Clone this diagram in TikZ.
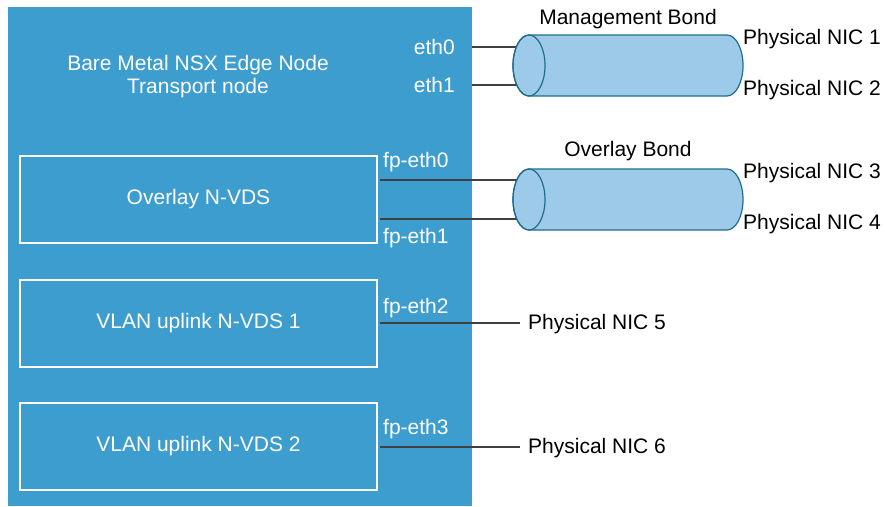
\documentclass[tikz,border=0pt]{standalone}
\usepackage{fontspec}
\setmainfont{Liberation Sans}
\definecolor{panelblue}{HTML}{3C9DCE}
\definecolor{cylfill}{HTML}{9CCAE8}
\definecolor{cyldraw}{HTML}{1F6E8C}
\definecolor{wire}{HTML}{404040}
\tikzset{
  txt/.style={font=\fontsize{21}{23}\selectfont, inner sep=0pt, yshift=-1.5pt},
  wtxt/.style={txt, text=white},
  vds/.style={draw=white, line width=2pt, minimum width=357pt, minimum height=87pt, font=\fontsize{21}{23}\selectfont, text=white, inner sep=0pt},
  wireline/.style={draw=wire, line width=1.5pt},
  bond/.pic={
    \path[fill=cylfill, draw=cyldraw, line width=1.2pt]
      (-99,-30.5) -- (99,-30.5) arc[start angle=-90, end angle=90, x radius=16, y radius=30.5]
      -- (-99,30.5) arc[start angle=90, end angle=270, x radius=16, y radius=30.5] -- cycle;
    \draw[cyldraw, line width=1.2pt] (-99,0) ellipse[x radius=16, y radius=30.5];
  }
}
\begin{document}
\begin{tikzpicture}[x=1pt, y=-1pt]
\useasboundingbox (0,0) rectangle (885,506);
% panel
\node[fill=panelblue, minimum width=464pt, minimum height=499pt, inner sep=0pt, anchor=north west] (panel) at (8,7) {};
\node[wtxt, align=center] (title) at (198,75.5) {Bare Metal NSX Edge Node\\Transport node};
% vds boxes
\node[vds] (ovds) at (198.5,199.5) {Overlay N-VDS};
\node[vds] (v1) at (198.5,323.5) {VLAN uplink N-VDS 1};
\node[vds] (v2) at (198.5,446.5) {VLAN uplink N-VDS 2};
% interface labels
\node[wtxt, anchor=east] (eth0) at (455,45) {eth0};
\node[wtxt, anchor=east] (eth1) at (455,83) {eth1};
\node[wtxt, anchor=west] (fp0) at (383,161) {fp-eth0};
\node[wtxt, anchor=west] (fp1) at (383,237) {fp-eth1};
\node[wtxt, anchor=west] (fp2) at (383,307) {fp-eth2};
\node[wtxt, anchor=west] (fp3) at (383,428) {fp-eth3};
% wire endpoints
\coordinate (a0) at (472,47);  \coordinate (b0) at (529,47);
\coordinate (a1) at (472,85);  \coordinate (b1) at (529,85);
\coordinate (c0) at (380,180); \coordinate (d0) at (529,180);
\coordinate (c1) at (380,219); \coordinate (d1) at (529,219);
\coordinate (c2) at (380,323); \coordinate (d2) at (520,323);
\coordinate (c3) at (380,447); \coordinate (d3) at (520,447);
\draw[wireline] (a0) -- (b0);
\draw[wireline] (a1) -- (b1);
\draw[wireline] (c0) -- (d0);
\draw[wireline] (c1) -- (d1);
\draw[wireline] (c2) -- (d2);
\draw[wireline] (c3) -- (d3);
% bonds
\pic (mgmt) at (628,65.5) {bond};
\pic (ovl) at (628,199.5) {bond};
\node[txt] (mgmtlbl) at (628,18) {Management Bond};
\node[txt] (ovllbl) at (628,150) {Overlay Bond};
% physical NICs
\node[txt, anchor=west] (nic1) at (743,38) {Physical NIC 1};
\node[txt, anchor=west] (nic2) at (743,89) {Physical NIC 2};
\node[txt, anchor=west] (nic3) at (743,172) {Physical NIC 3};
\node[txt, anchor=west] (nic4) at (743,223) {Physical NIC 4};
\node[txt, anchor=west] (nic5) at (528,323) {Physical NIC 5};
\node[txt, anchor=west] (nic6) at (528,447) {Physical NIC 6};
\end{tikzpicture}
\end{document}
